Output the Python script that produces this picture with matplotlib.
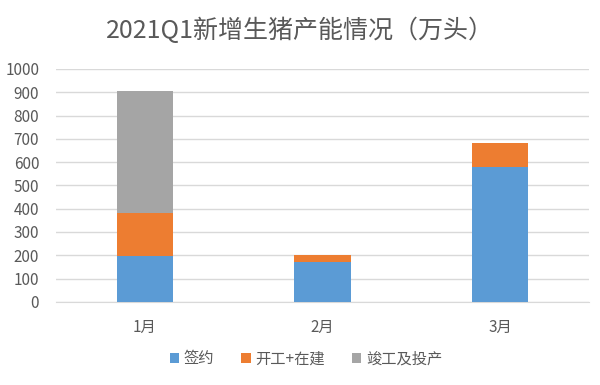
import numpy as np
import matplotlib.pyplot as plt

plt.rcParams['font.family'] = ['Noto Sans CJK SC', 'DejaVu Sans']

# Data (万头)
months = ['1月', '2月', '3月']
signed = [195, 170, 580]
building = [186, 30, 103]
finished = [524, 0, 0]

fig = plt.figure(figsize=(6, 3.85), dpi=100)
ax = fig.add_axes([0.093, 0.216, 0.889, 0.605])

x = np.arange(len(months))
w = 0.315
s = np.array(signed)
b = np.array(building)
f = np.array(finished)
ax.bar(x, s, w, color='#5b9bd5', label='签约', zorder=3)
ax.bar(x, b, w, bottom=s, color='#ed7d31', label='开工+在建', zorder=3)
ax.bar(x, f, w, bottom=s + b, color='#a5a5a5', label='竣工及投产', zorder=3)

ax.set_xlim(-0.5, 2.5)
ax.set_ylim(0, 1000)
ax.set_yticks(range(0, 1001, 100))
ax.set_xticks(x)
ax.set_xticklabels(months)
ax.grid(axis='y', color='#d9d9d9', linewidth=1, zorder=0)
for sp in ['top', 'right', 'left']:
    ax.spines[sp].set_visible(False)
ax.spines['bottom'].set_color('#d9d9d9')
ax.tick_params(length=0, colors='#595959', labelsize=11)
ax.tick_params(axis='y', pad=12)
ax.tick_params(axis='x', pad=12)

fig.suptitle('2021Q1新增生猪产能情况（万头）', y=0.955, fontsize=18, color='#595959')
fig.legend(loc='center', bbox_to_anchor=(0.51, 0.068), ncol=3, frameon=False,
           fontsize=11, labelcolor='#595959', handlelength=0.6, handleheight=0.6,
           columnspacing=1.8, handletextpad=0.3)

fig.savefig('out.png', dpi=100)
